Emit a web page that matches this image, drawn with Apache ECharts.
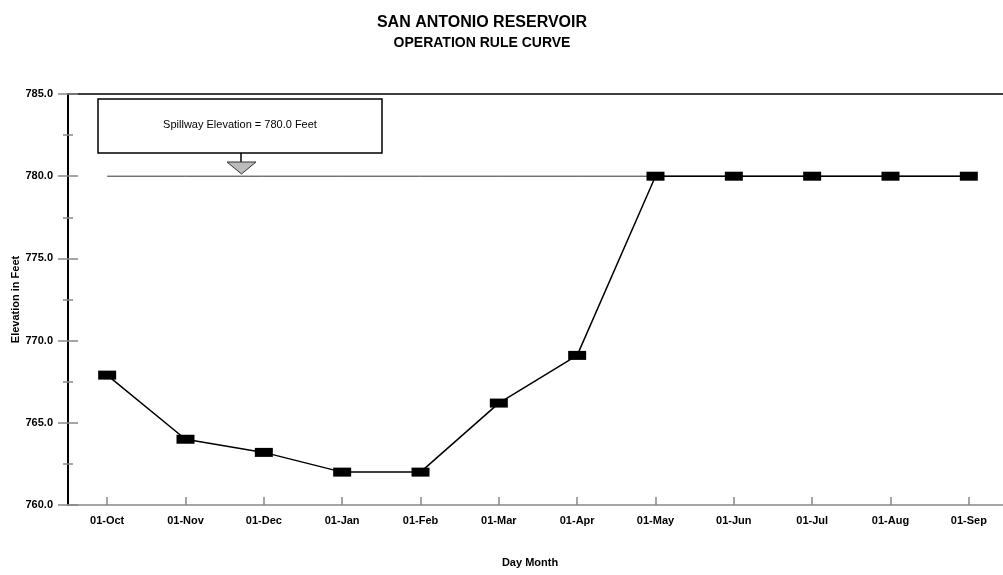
<!DOCTYPE html>
<html>
<head>
<meta charset="utf-8">
<script src="https://cdn.jsdelivr.net/npm/echarts@6/dist/echarts.min.js"></script>
<style>
html,body{margin:0;padding:0;background:#fff;}
#chart{width:1003px;height:575px;}
</style>
</head>
<body>
<div id="chart"></div>
<script>
const categories = ['01-Oct','01-Nov','01-Dec','01-Jan','01-Feb','01-Mar','01-Apr','01-May','01-Jun','01-Jul','01-Aug','01-Sep'];
const ruleCurve = [767.9, 764.0, 763.2, 762.0, 762.0, 766.2, 769.1, 780.0, 780.0, 780.0, 780.0, 780.0];
const spillwayElevation = 780.0;
const spillway = categories.map(() => spillwayElevation);
const yTicks = {min: 760, max: 785, interval: 5};
const titleText = 'SAN ANTONIO RESERVOIR';
const subtitleText = 'OPERATION RULE CURVE';
const spillwayLabel = 'Spillway Elevation = 780.0 Feet';

const FONT = '"Liberation Sans", Arial, sans-serif';
const chart = echarts.init(document.getElementById('chart'), null, {renderer: 'canvas'});

const option = {
  backgroundColor: '#fff',
  animation: false,
  textStyle: {fontFamily: FONT},
  title: [
    {text: titleText, left: 477, top: 10, textAlign: 'center',
     textStyle: {fontFamily: FONT, fontSize: 16, fontWeight: 'bold', color: '#000'}},
    {text: subtitleText, left: 477, top: 31, textAlign: 'center',
     textStyle: {fontFamily: FONT, fontSize: 14, fontWeight: 'bold', color: '#000'}}
  ],
  grid: {left: 68, top: 94, width: 940, height: 411, containLabel: false, outerBoundsMode: 'none'},
  xAxis: [
    {
      type: 'category', data: categories, boundaryGap: true, position: 'bottom',
      axisLine: {show: true, lineStyle: {color: '#888', width: 1.5}},
      axisTick: {show: true, interval: 0, inside: true, length: 8, alignWithLabel: true, lineStyle: {color: '#888', width: 1.5}},
      axisLabel: {fontFamily: FONT, fontSize: 11, fontWeight: 'bold', color: '#000', margin: 10, interval: 0},
      name: 'Day Month', nameLocation: 'middle', nameGap: 52,
      nameTextStyle: {fontFamily: FONT, fontSize: 11, fontWeight: 'bold', color: '#000', padding: [0, 16, 0, 0]},
      splitLine: {show: false}
    },
    {
      type: 'category', data: categories, position: 'top',
      axisLine: {show: true, lineStyle: {color: '#000', width: 1.5}},
      axisTick: {show: false}, axisLabel: {show: false}, splitLine: {show: false}
    }
  ],
  yAxis: [
    {
      type: 'value', min: yTicks.min, max: yTicks.max, interval: yTicks.interval, position: 'left',
      axisLine: {show: true, lineStyle: {color: '#000', width: 2}},
      axisTick: {show: true, length: 10, lineStyle: {color: '#888', width: 1.5}},
      minorTick: {show: true, splitNumber: 2, length: 5, lineStyle: {color: '#888', width: 1.5}},
      axisLabel: {fontFamily: FONT, fontSize: 11, fontWeight: 'bold', color: '#000', margin: 15,
                  formatter: v => v.toFixed(1)},
      splitLine: {show: false},
      name: 'Elevation in Feet', nameLocation: 'middle', nameGap: 47, nameRotate: 90,
      nameMoveOverlap: false,
      nameTextStyle: {fontFamily: FONT, fontSize: 11, fontWeight: 'bold', color: '#000'}
    },
    {
      type: 'value', min: yTicks.min, max: yTicks.max, interval: yTicks.interval, position: 'left',
      axisLine: {show: false},
      axisTick: {show: true, inside: true, length: 10, lineStyle: {color: '#888', width: 1.5}},
      minorTick: {show: true, splitNumber: 2, length: 5, lineStyle: {color: '#888', width: 1.5}},
      axisLabel: {show: false}, splitLine: {show: false}
    }
  ],
  series: [
    {
      name: 'Spillway', type: 'line', data: spillway, xAxisIndex: 0, yAxisIndex: 0,
      showSymbol: false, symbol: 'none',
      lineStyle: {color: '#333', width: 1}, z: 1, silent: true
    },
    {
      name: 'Rule Curve', type: 'line', data: ruleCurve, xAxisIndex: 0, yAxisIndex: 0,
      symbol: 'rect', symbolSize: [18, 9],
      itemStyle: {color: '#000'},
      lineStyle: {color: '#000', width: 1.5}, z: 3
    }
  ],
  graphic: [
    {type: 'rect', shape: {x: 98, y: 99, width: 284, height: 54},
     style: {fill: '#fff', stroke: '#000', lineWidth: 1.5}, z: 10},
    {type: 'text', x: 240, y: 125, style: {text: spillwayLabel, fontFamily: FONT, fontSize: 11,
     fill: '#000', align: 'center', verticalAlign: 'middle'}, z: 11},
    {type: 'line', shape: {x1: 241, y1: 153, x2: 241, y2: 162},
     style: {stroke: '#000', lineWidth: 1.5}, z: 10},
    {type: 'polygon', shape: {points: [[227, 162], [256, 162], [241.5, 174]]},
     style: {fill: '#bbb', stroke: '#333', lineWidth: 1}, z: 10}
  ]
};
chart.setOption(option);
</script>
</body>
</html>
